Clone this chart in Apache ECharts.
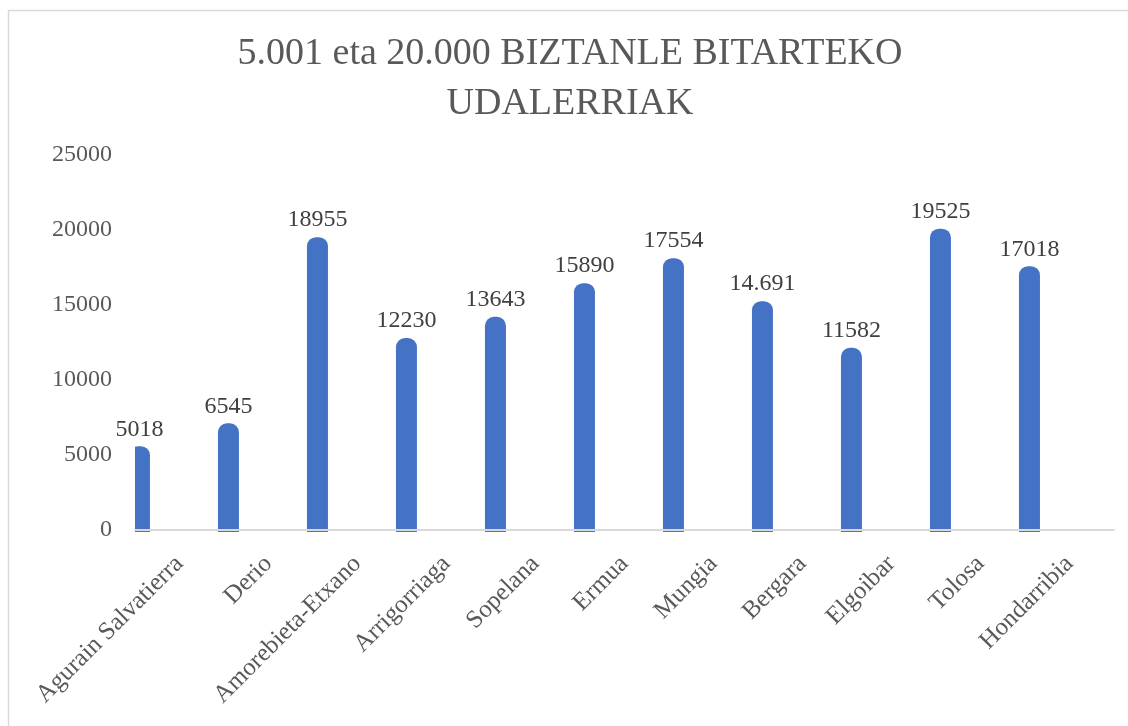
<!DOCTYPE html>
<html>
<head>
<meta charset="utf-8">
<script src="https://cdn.jsdelivr.net/npm/echarts@6/dist/echarts.min.js"></script>
<style>
  html, body { margin: 0; padding: 0; background: #fff; }
  #chart { width: 1128px; height: 726px; }
</style>
</head>
<body>
<div id="chart"></div>
<script>
// herriak eta biztanleak
const towns = ['Agurain Salvatierra', 'Derio', 'Amorebieta-Etxano', 'Arrigorriaga', 'Sopelana',
  'Ermua', 'Mungia', 'Bergara', 'Elgoibar', 'Tolosa', 'Hondarribia'];
const population = [5018, 6545, 18955, 12230, 13643, 15890, 17554, 14691, 11582, 19525, 17018];
// etiketak irudian agertzen diren bezala (Bergara puntuarekin)
const valueLabels = ['5018', '6545', '18955', '12230', '13643', '15890', '17554', '14.691', '11582', '19525', '17018'];
const yTicks = [0, 5000, 10000, 15000, 20000, 25000];

const FONT = '"Liberation Serif", "DejaVu Serif", serif';

const chart = echarts.init(document.getElementById('chart'));

// zutabe biribildua, kategoriaren ezkerraldera lerratuta (Excel-en antzera)
function renderBar(params, api) {
  const i = api.value(0);
  const top = api.coord([i, api.value(1)]);
  const base = api.coord([i, 0]);
  const band = api.size([1, 0])[0];
  const w = 21;
  const cx = top[0] - band * 0.45;
  const cs = params.coordSys;
  const y0 = top[1] - 8.5;
  return {
    type: 'group',
    children: [
      {
        type: 'rect',
        shape: { x: cx - w / 2, y: y0, width: w, height: base[1] + 2 - y0, r: [9, 9, 0, 0] },
        style: { fill: '#4472C4' },
        clipPath: { type: 'rect', shape: { x: cs.x, y: cs.y - 60, width: cs.width, height: cs.height + 80 } }
      },
      {
        type: 'text',
        x: cx,
        y: y0 - 5,
        style: {
          text: valueLabels[i],
          fill: '#404040',
          font: '24px ' + FONT,
          align: 'center',
          verticalAlign: 'bottom'
        }
      }
    ]
  };
}

const option = {
  backgroundColor: '#fff',
  animation: false,
  graphic: [
    {
      type: 'rect',
      shape: { x: 8.5, y: 10.5, width: 1300, height: 900 },
      style: { fill: 'none', stroke: '#d9d9d9', lineWidth: 1.5 },
      silent: true
    },
    {
      type: 'text', x: 570, y: 54,
      style: { text: '5.001 eta 20.000 BIZTANLE BITARTEKO', fill: '#595959', font: '38px ' + FONT, align: 'center', verticalAlign: 'middle' }
    },
    {
      type: 'text', x: 570, y: 104,
      style: { text: 'UDALERRIAK', fill: '#595959', font: '38px ' + FONT, align: 'center', verticalAlign: 'middle' }
    }
  ],
  grid: { left: 135, right: 14, top: 155, bottom: 196, containLabel: false },
  xAxis: {
    type: 'category',
    data: towns,
    z: 5,
    axisLine: { show: true, lineStyle: { color: '#d9d9d9', width: 2 } },
    axisTick: { show: false },
    axisLabel: {
      interval: 0,
      rotate: 45,
      margin: 30,
      color: '#595959',
      fontSize: 25,
      fontFamily: FONT
    },
    splitLine: { show: false }
  },
  yAxis: {
    type: 'value',
    min: yTicks[0],
    max: yTicks[yTicks.length - 1],
    interval: yTicks[1] - yTicks[0],
    axisLine: { show: false },
    axisTick: { show: false },
    splitLine: { show: false },
    axisLabel: {
      margin: 23,
      color: '#595959',
      fontSize: 24,
      fontFamily: FONT,
      formatter: (v) => String(v)
    }
  },
  series: [{
    type: 'custom',
    renderItem: renderBar,
    encode: { x: 0, y: 1 },
    data: population.map((v, i) => [i, v]),
    z: 2
  }]
};

chart.setOption(option);
</script>
</body>
</html>
